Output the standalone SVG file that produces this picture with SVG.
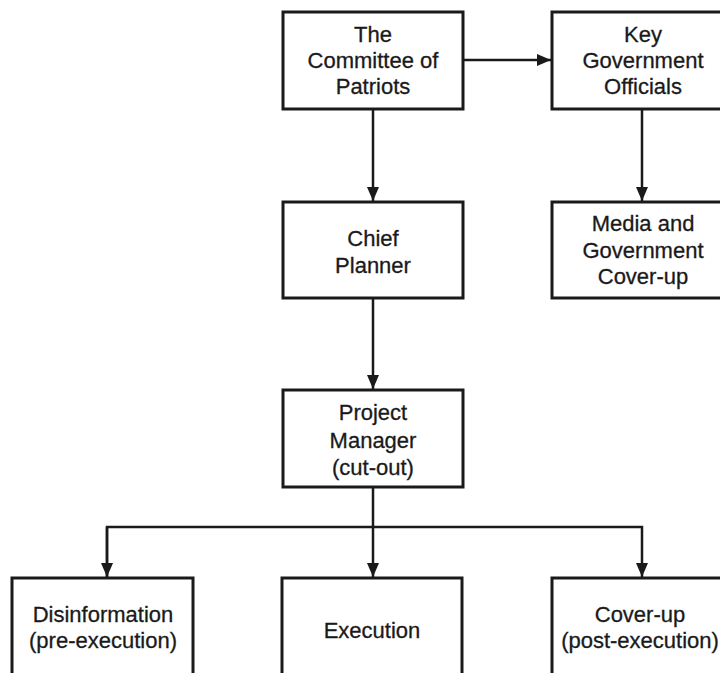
<svg xmlns="http://www.w3.org/2000/svg" width="720" height="673" viewBox="0 0 720 673">
<style>
.box{fill:#fff;stroke:#1a1a1a;stroke-width:3}
.t{font-family:"Liberation Sans",Arial,sans-serif;font-size:22px;fill:#1a1a1a;stroke:#1a1a1a;stroke-width:0.3;text-anchor:middle}
.c{fill:none;stroke:#1a1a1a;stroke-width:2.5}
</style>
<defs>
<marker id="ah" viewBox="0 0 14 12" refX="14" refY="6" markerWidth="14" markerHeight="12" markerUnits="userSpaceOnUse" orient="auto">
<path d="M0,0 L14,6 L0,12 Z" fill="#1a1a1a"/>
</marker>
</defs>
<rect width="720" height="673" fill="#fff"/>
<g id="connectors">
<path class="c" d="M463,60 H551" marker-end="url(#ah)"/>
<path class="c" d="M373,109 V201" marker-end="url(#ah)"/>
<path class="c" d="M642,109 V201" marker-end="url(#ah)"/>
<path class="c" d="M373,298 V389" marker-end="url(#ah)"/>
<path class="c" d="M373,487 V577" marker-end="url(#ah)"/>
<path class="c" d="M107,577 V527 H642 V577" marker-end="url(#ah)"/>
<path class="c" d="M107,527 V577" marker-end="url(#ah)"/>
</g>
<g id="committee">
<rect class="box" x="283" y="12" width="180" height="97"/>
<text class="t" x="373" y="42">The</text>
<text class="t" x="373" y="68">Committee of</text>
<text class="t" x="373" y="94">Patriots</text>
</g>
<g id="officials">
<rect class="box" x="552" y="12" width="180" height="97"/>
<text class="t" x="643" y="42">Key</text>
<text class="t" x="643" y="68">Government</text>
<text class="t" x="643" y="94">Officials</text>
</g>
<g id="chief">
<rect class="box" x="283" y="202" width="180" height="96"/>
<text class="t" x="373" y="246">Chief</text>
<text class="t" x="373" y="273">Planner</text>
</g>
<g id="media">
<rect class="box" x="552" y="202" width="180" height="96"/>
<text class="t" x="643" y="231">Media and</text>
<text class="t" x="643" y="258">Government</text>
<text class="t" x="643" y="284">Cover-up</text>
</g>
<g id="manager">
<rect class="box" x="283" y="390" width="180" height="97"/>
<text class="t" x="373" y="420">Project</text>
<text class="t" x="373" y="448">Manager</text>
<text class="t" x="373" y="475">(cut-out)</text>
</g>
<g id="disinformation">
<rect class="box" x="12" y="578" width="181" height="110"/>
<text class="t" x="103" y="622">Disinformation</text>
<text class="t" x="103" y="648">(pre-execution)</text>
</g>
<g id="execution">
<rect class="box" x="282" y="578" width="180" height="110"/>
<text class="t" x="372" y="638">Execution</text>
</g>
<g id="coverup">
<rect class="box" x="552" y="578" width="180" height="110"/>
<text class="t" x="640" y="622">Cover-up</text>
<text class="t" x="640" y="648">(post-execution)</text>
</g>
</svg>
